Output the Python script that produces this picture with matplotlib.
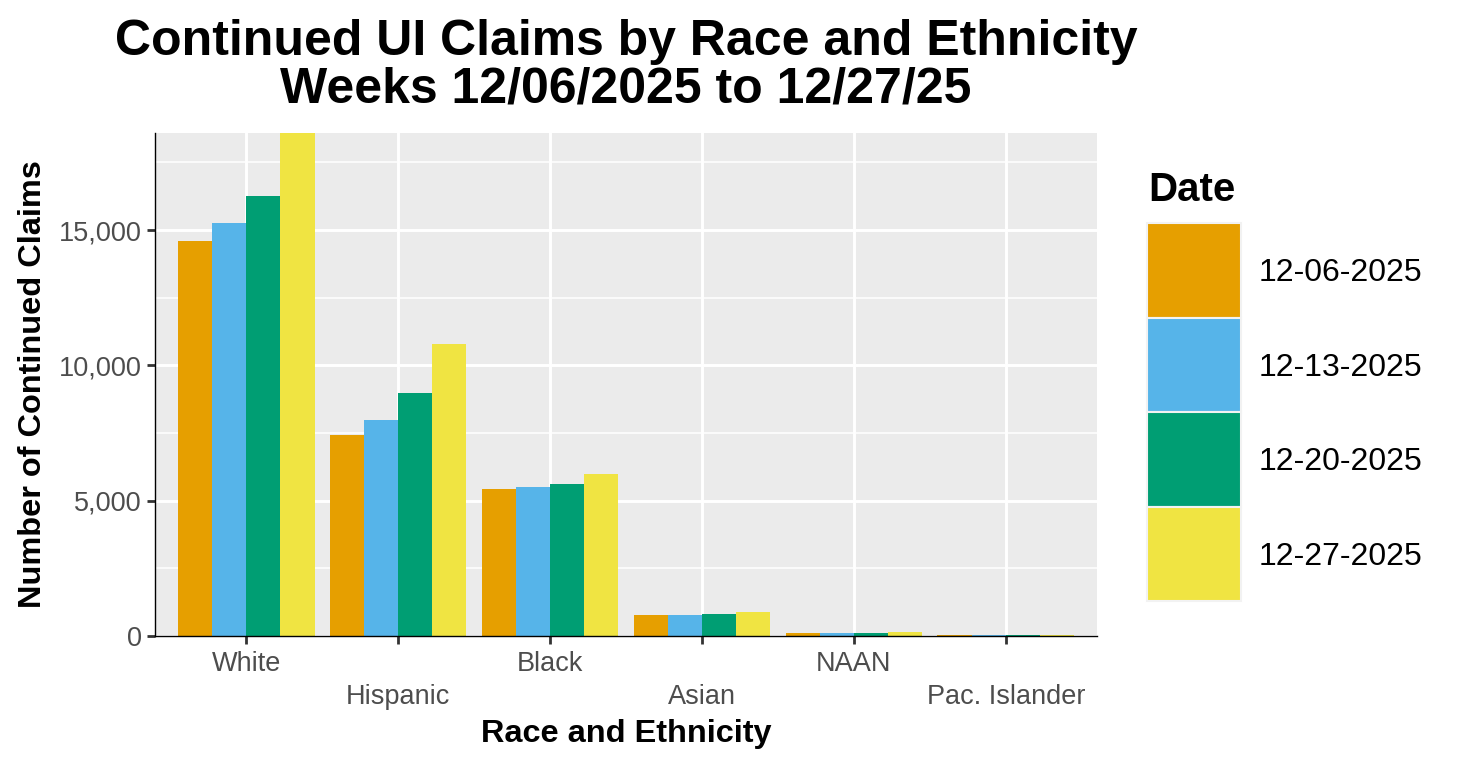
import matplotlib
matplotlib.use("Agg")
import matplotlib.pyplot as plt
import numpy as np
from matplotlib.patches import Rectangle

plt.rcParams['font.family'] = ['Liberation Sans', 'DejaVu Sans']

# --- data ---
groups = ["White", "Hispanic", "Black", "Asian", "NAAN", "Pac. Islander"]
dates = ["12-06-2025", "12-13-2025", "12-20-2025", "12-27-2025"]
claims_1206 = [14590, 7445, 5445, 780, 110, 50]
claims_1213 = [15260, 8000, 5520, 780, 110, 45]
claims_1220 = [16260, 8965, 5630, 815, 115, 50]
claims_1227 = [18590, 10780, 6000, 890, 145, 45]
colors = ["#E69F00", "#56B4E9", "#009E73", "#F0E442"]

series = [claims_1206, claims_1213, claims_1220, claims_1227]

fig = plt.figure(figsize=(14.58, 7.66), dpi=100)
ax = fig.add_axes([155/1458, 1-636/766, (1097-155)/1458, (636-133)/766])
ax.set_facecolor("#EBEBEB")

x = np.arange(len(groups))
bw = 0.9 / len(dates)
for i, vals in enumerate(series):
    ax.bar(x - 0.45 + bw*(i+0.5), vals, width=bw, color=colors[i], zorder=3)

ax.set_xlim(-0.6, len(groups) - 0.4)
ax.set_ylim(0, max(claims_1227))

# grid like ggplot
for yv in [2500, 7500, 12500, 17500]:
    ax.axhline(yv, color="white", lw=1.1, zorder=1)
ax.set_yticks([0, 5000, 10000, 15000])
ax.set_yticklabels(["0", "5,000", "10,000", "15,000"])
ax.grid(True, color="white", lw=2.1, zorder=1)
ax.set_axisbelow(True)

ax.set_xticks(x)
ax.set_xticklabels([g if i % 2 == 0 else "\n" + g for i, g in enumerate(groups)])
for lab in ax.get_xticklabels():
    lab.set_linespacing(1.32)

for s in ["top", "right"]:
    ax.spines[s].set_visible(False)
for s in ["left", "bottom"]:
    ax.spines[s].set_color("black")
    ax.spines[s].set_linewidth(1.0)
    ax.spines[s].set_zorder(4)

ax.tick_params(axis="both", colors="#333333", width=2, length=5.5, labelsize=19.5,
               labelcolor="#4D4D4D", pad=4)
ax.tick_params(axis="x", pad=5.5)

ax.set_xlabel("Race and Ethnicity", fontsize=23.4, fontweight="bold", labelpad=7)
ax.set_ylabel("Number of Continued Claims", fontsize=23.4, fontweight="bold", labelpad=8)

fig.text(626/1458, 1-19/766, "Continued UI Claims by Race and Ethnicity\nWeeks 12/06/2025 to 12/27/25",
         ha="center", va="top", fontsize=36, fontweight="bold", linespacing=1.05)

# legend drawn by hand to get ggplot-sized keys
fig.text(1148/1458, 1-190/766, "Date", fontsize=29, fontweight="bold", va="center", ha="left")
key_top = 223
key_h = 94.5
for i, d in enumerate(dates):
    y0 = key_top + key_h*i
    fig.patches.append(Rectangle((1147/1458, 1-(y0+key_h)/766), 94/1458, key_h/766,
                                 transform=fig.transFigure, facecolor=colors[i],
                                 edgecolor="#F2F2F2", lw=1.5))
    fig.text(1259/1458, 1-(y0+key_h/2+3)/766, d, fontsize=23, va="center", ha="left")

fig.savefig("out.png", dpi=100)
